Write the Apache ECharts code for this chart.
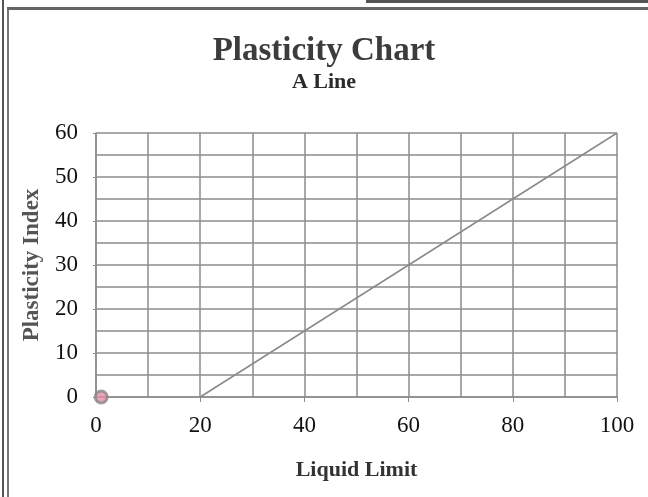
<!DOCTYPE html>
<html>
<head>
<meta charset="utf-8">
<script src="https://cdn.jsdelivr.net/npm/echarts@6/dist/echarts.min.js"></script>
<style>
  html, body { margin: 0; padding: 0; background: #fff; }
  #chart { width: 648px; height: 497px; }
</style>
</head>
<body>
<div id="chart"></div>
<script>
// A line (PI = 0.75 * (LL - 20)), as drawn on the chart
const aLineLL = [20, 40, 60, 80, 100];
const aLinePI = [0, 15, 30, 45, 60];
// single sample point sitting near the origin
const sampleLL = [1];
const samplePI = [0];

const serif = '"Liberation Serif", "DejaVu Serif", serif';
const gridColor = '#8c8c8c';

const chart = echarts.init(document.getElementById('chart'));

const option = {
  backgroundColor: '#fff',
  animation: false,
  title: {
    text: 'Plasticity Chart',
    subtext: 'A Line',
    left: 'center',
    top: 30,
    itemGap: 3,
    textStyle: {
      fontFamily: serif,
      fontSize: 33,
      fontWeight: 'bold',
      color: '#3c3c3c'
    },
    subtextStyle: {
      fontFamily: serif,
      fontSize: 22,
      fontWeight: 'bold',
      color: '#2a2a2a'
    }
  },
  grid: {
    left: 96,
    right: 31,
    top: 133,
    bottom: 100
  },
  xAxis: {
    type: 'value',
    min: 0,
    max: 100,
    interval: 20,
    name: 'Liquid Limit',
    nameLocation: 'middle',
    nameGap: 62,
    nameTextStyle: {
      fontFamily: serif,
      fontSize: 22,
      fontWeight: 'bold',
      color: '#333'
    },
    axisLine: { show: true, lineStyle: { color: gridColor, width: 1.5 } },
    axisTick: { show: true, length: 5, lineStyle: { color: gridColor } },
    axisLabel: {
      fontFamily: serif,
      fontSize: 23,
      color: '#111',
      margin: 17
    },
    splitLine: { show: true, lineStyle: { color: gridColor, width: 1.5 } },
    minorTick: { show: false, splitNumber: 2 },
    minorSplitLine: { show: true, lineStyle: { color: gridColor, width: 1.5 } }
  },
  yAxis: {
    type: 'value',
    min: 0,
    max: 60,
    interval: 10,
    name: 'Plasticity Index',
    nameLocation: 'middle',
    nameGap: 52,
    nameTextStyle: {
      fontFamily: serif,
      fontSize: 23,
      fontWeight: 'bold',
      color: '#555'
    },
    axisLine: { show: true, lineStyle: { color: gridColor, width: 1.5 } },
    axisTick: { show: true, length: 3, lineStyle: { color: gridColor } },
    axisLabel: {
      fontFamily: serif,
      fontSize: 23,
      color: '#111',
      margin: 18
    },
    splitLine: { show: true, lineStyle: { color: gridColor, width: 1.5 } },
    minorTick: { show: false, splitNumber: 2 },
    minorSplitLine: { show: true, lineStyle: { color: gridColor, width: 1.5 } }
  },
  series: [
    {
      name: 'A Line',
      type: 'line',
      data: aLineLL.map((v, i) => [v, aLinePI[i]]),
      showSymbol: false,
      lineStyle: { color: '#8a8a8a', width: 1.5 },
      z: 3
    },
    {
      name: 'Sample',
      type: 'scatter',
      data: sampleLL.map((v, i) => [v, samplePI[i]]),
      symbol: 'circle',
      symbolSize: 12,
      itemStyle: {
        color: '#e58fa6',
        borderColor: '#888',
        borderWidth: 3
      },
      z: 4
    }
  ],
  graphic: [
    // scanned page frame: double rule at left, rule across the top
    { type: 'rect', left: 2, top: 0, shape: { width: 2, height: 497 }, style: { fill: '#555' } },
    { type: 'rect', left: 7, top: 7, shape: { width: 2, height: 490 }, style: { fill: '#777' } },
    { type: 'rect', left: 7, top: 7, shape: { width: 641, height: 3 }, style: { fill: '#666' } },
    { type: 'rect', left: 366, top: 0, shape: { width: 282, height: 3 }, style: { fill: '#555' } }
  ]
};

chart.setOption(option);
</script>
</body>
</html>
